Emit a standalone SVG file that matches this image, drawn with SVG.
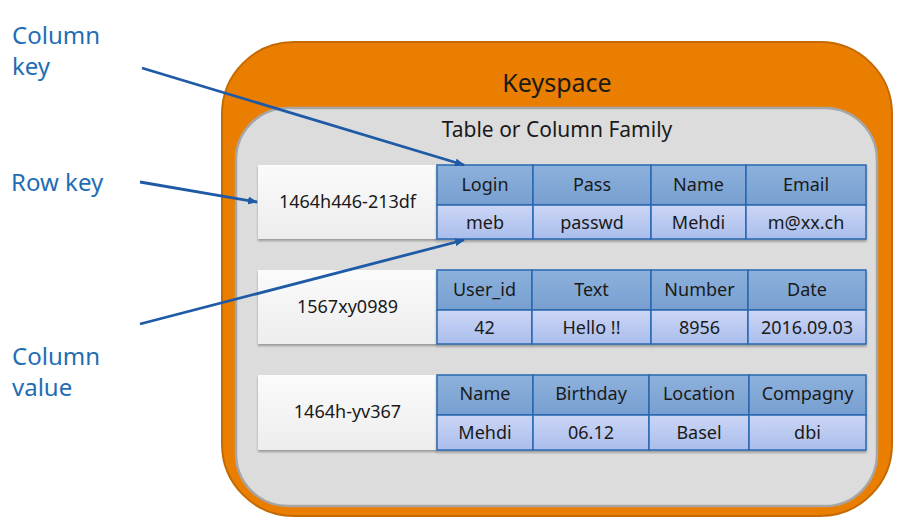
<svg xmlns="http://www.w3.org/2000/svg" width="899" height="522" viewBox="0 0 899 522">
<style>
.t{font-family:"Noto Sans","DejaVu Sans",sans-serif;fill:#1a1a1a;text-anchor:middle}
.c{font-size:18px}
.lab{font-family:"Noto Sans","DejaVu Sans",sans-serif;font-size:24px;fill:#1F6DB5}
.key{fill:url(#gKey);filter:url(#sh)}
.hd{fill:url(#gHd);stroke:#2A68B0;stroke-width:1.5}
.vl{fill:url(#gVl);stroke:#2A68B0;stroke-width:1.5}
.arr{stroke:#1F5AA6;stroke-width:2.8;fill:none;marker-end:url(#ah)}
</style>
<defs>
<linearGradient id="gKey" x1="0" y1="0" x2="0" y2="1"><stop offset="0" stop-color="#FBFBFB"/><stop offset="1" stop-color="#EDEDED"/></linearGradient>
<linearGradient id="gHd" x1="0" y1="0" x2="0" y2="1"><stop offset="0" stop-color="#8DB1DC"/><stop offset="1" stop-color="#779FD0"/></linearGradient>
<linearGradient id="gVl" x1="0" y1="0" x2="0" y2="1"><stop offset="0" stop-color="#CCD6F6"/><stop offset="1" stop-color="#A9BDEC"/></linearGradient>
<filter id="sh" x="-5%" y="-10%" width="110%" height="130%"><feDropShadow dx="0" dy="2" stdDeviation="1.2" flood-color="#000" flood-opacity="0.3"/></filter>
<marker id="ah" markerWidth="10" markerHeight="8" refX="9" refY="4" orient="auto" markerUnits="userSpaceOnUse"><path d="M0,0 L10,4 L0,8 z" fill="#1F5AA6"/></marker>
</defs>
<g id="keyspace">
<rect x="222" y="42" width="670" height="474" rx="72" ry="72" fill="#EA7E00" stroke="#C46A00" stroke-width="2"/>
<text class="t" x="557" y="92" font-size="25">Keyspace</text>
</g>
<g id="table">
<rect x="236" y="108" width="641" height="398" rx="52" ry="52" fill="#DCDCDC" stroke="#A6A6A6" stroke-width="2.5"/>
<text class="t" x="557" y="137" font-size="21">Table or Column Family</text>
</g>
<g id="row1">
<rect class="key" x="258" y="165" width="179" height="74"/>
<text class="t c" x="347.5" y="208">1464h446-213df</text>
<g filter="url(#sh)">
<rect class="hd" x="437" y="165" width="96" height="40"/><rect class="hd" x="533" y="165" width="118" height="40"/><rect class="hd" x="651" y="165" width="95" height="40"/><rect class="hd" x="746" y="165" width="120" height="40"/>
<rect class="vl" x="437" y="205" width="96" height="34"/><rect class="vl" x="533" y="205" width="118" height="34"/><rect class="vl" x="651" y="205" width="95" height="34"/><rect class="vl" x="746" y="205" width="120" height="34"/>
</g>
<text class="t c" x="485" y="191">Login</text><text class="t c" x="592" y="191">Pass</text><text class="t c" x="698.5" y="191">Name</text><text class="t c" x="806" y="191">Email</text>
<text class="t c" x="485" y="229">meb</text><text class="t c" x="592" y="229">passwd</text><text class="t c" x="698.5" y="229">Mehdi</text><text class="t c" x="806" y="229">m@xx.ch</text>
</g>
<g id="row2">
<rect class="key" x="258" y="270" width="179" height="74"/>
<text class="t c" x="347.5" y="313">1567xy0989</text>
<g filter="url(#sh)">
<rect class="hd" x="437" y="270" width="95" height="40"/><rect class="hd" x="532" y="270" width="119" height="40"/><rect class="hd" x="651" y="270" width="97" height="40"/><rect class="hd" x="748" y="270" width="118" height="40"/>
<rect class="vl" x="437" y="310" width="95" height="34"/><rect class="vl" x="532" y="310" width="119" height="34"/><rect class="vl" x="651" y="310" width="97" height="34"/><rect class="vl" x="748" y="310" width="118" height="34"/>
</g>
<text class="t c" x="484.5" y="296">User_id</text><text class="t c" x="591.5" y="296">Text</text><text class="t c" x="699.5" y="296">Number</text><text class="t c" x="807" y="296">Date</text>
<text class="t c" x="484.5" y="334">42</text><text class="t c" x="591.5" y="334">Hello !!</text><text class="t c" x="699.5" y="334">8956</text><text class="t c" x="807" y="334">2016.09.03</text>
</g>
<g id="row3">
<rect class="key" x="258" y="375" width="179" height="75"/>
<text class="t c" x="347.5" y="418">1464h-yv367</text>
<g filter="url(#sh)">
<rect class="hd" x="437" y="375" width="96" height="40"/><rect class="hd" x="533" y="375" width="116" height="40"/><rect class="hd" x="649" y="375" width="100" height="40"/><rect class="hd" x="749" y="375" width="117" height="40"/>
<rect class="vl" x="437" y="415" width="96" height="35"/><rect class="vl" x="533" y="415" width="116" height="35"/><rect class="vl" x="649" y="415" width="100" height="35"/><rect class="vl" x="749" y="415" width="117" height="35"/>
</g>
<text class="t c" x="485" y="400">Name</text><text class="t c" x="591" y="400">Birthday</text><text class="t c" x="699" y="400">Location</text><text class="t c" x="807.5" y="400">Compagny</text>
<text class="t c" x="485" y="439">Mehdi</text><text class="t c" x="591" y="439">06.12</text><text class="t c" x="699" y="439">Basel</text><text class="t c" x="807.5" y="439">dbi</text>
</g>
<g id="labels">
<text class="lab" x="12" y="44">Column</text>
<text class="lab" x="12" y="75">key</text>
<text class="lab" x="11" y="191">Row key</text>
<text class="lab" x="12" y="365">Column</text>
<text class="lab" x="12" y="396">value</text>
</g>
<g id="connectors">
<line class="arr" x1="142" y1="68" x2="464" y2="165"/>
<line class="arr" x1="140" y1="182" x2="257" y2="202"/>
<line class="arr" x1="140" y1="324" x2="464" y2="240"/>
</g>
</svg>
